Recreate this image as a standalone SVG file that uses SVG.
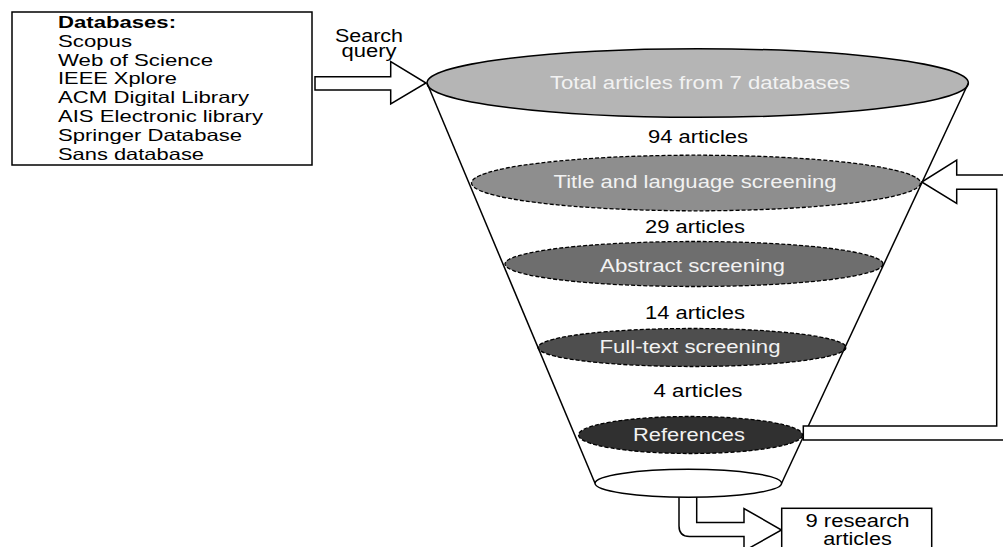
<svg xmlns="http://www.w3.org/2000/svg" width="1003" height="547" viewBox="0 0 1003 547">
  <style>
    .box { fill: #ffffff; stroke: #000000; stroke-width: 1.5; }
    .lst { font-family: "Liberation Sans", Arial, sans-serif; font-size: 16.5px; fill: #000000; }
    .lbl { font-family: "Liberation Sans", Arial, sans-serif; font-size: 17.5px; fill: #000000; text-anchor: middle; }
    .in  { font-family: "Liberation Sans", Arial, sans-serif; font-size: 17.5px; fill: #f2f2f2; text-anchor: middle; }
    .stage { stroke: #000000; stroke-width: 1.3; stroke-dasharray: 4 2; }
    .line { fill: none; stroke: #000000; stroke-width: 1.5; }
    .arrow { fill: #ffffff; stroke: #000000; stroke-width: 1.5; stroke-linejoin: miter; }
  </style>

  <!-- source databases -->
  <g id="databases">
    <rect class="box" x="12" y="12" width="300" height="153"/>
    <text class="lst" x="58" y="28" font-weight="bold" textLength="118" lengthAdjust="spacingAndGlyphs">Databases:</text>
    <text class="lst" x="58" y="46.8" textLength="74" lengthAdjust="spacingAndGlyphs">Scopus</text>
    <text class="lst" x="58" y="65.6" textLength="155" lengthAdjust="spacingAndGlyphs">Web of Science</text>
    <text class="lst" x="58" y="84.4" textLength="119" lengthAdjust="spacingAndGlyphs">IEEE Xplore</text>
    <text class="lst" x="58" y="103.2" textLength="191" lengthAdjust="spacingAndGlyphs">ACM Digital Library</text>
    <text class="lst" x="58" y="122" textLength="205" lengthAdjust="spacingAndGlyphs">AIS Electronic library</text>
    <text class="lst" x="58" y="140.8" textLength="184" lengthAdjust="spacingAndGlyphs">Springer Database</text>
    <text class="lst" x="58" y="159.6" textLength="146" lengthAdjust="spacingAndGlyphs">Sans database</text>
  </g>

  <g id="search-query">
    <text class="lbl" x="369" y="41.7" font-size="16.5" textLength="68" lengthAdjust="spacingAndGlyphs">Search</text>
    <text class="lbl" x="369" y="57.3" font-size="16.5" textLength="55" lengthAdjust="spacingAndGlyphs">query</text>
  </g>

  <!-- output arrow sits under the funnel base -->
  <g id="output-arrow">
    <path class="arrow" d="M679,497 L679,526 Q679,536.5 689.5,536.5 L744,536.5 L744,551 L781.5,530 L744,508.5 L744,522.5 L696.7,522.5 L696.7,497"/>
  </g>

  <!-- funnel stages -->
  <g id="stage-total">
    <ellipse cx="697.7" cy="83" rx="270.7" ry="34.3" fill="#b5b5b5" stroke="#000000" stroke-width="1.5"/>
    <text class="in" x="700" y="89.3" textLength="300" lengthAdjust="spacingAndGlyphs">Total articles from 7 databases</text>
  </g>
  <g id="count-94">
    <text class="lbl" x="698" y="143.3" textLength="100" lengthAdjust="spacingAndGlyphs">94 articles</text>
  </g>
  <g id="stage-title">
    <ellipse class="stage" cx="696" cy="183" rx="224.5" ry="27.8" fill="#8e8e8e"/>
    <text class="in" x="695" y="188.3" textLength="283" lengthAdjust="spacingAndGlyphs">Title and language screening</text>
  </g>
  <g id="count-29">
    <text class="lbl" x="695" y="233" textLength="100" lengthAdjust="spacingAndGlyphs">29 articles</text>
  </g>
  <g id="stage-abstract">
    <ellipse class="stage" cx="694" cy="264" rx="189" ry="22.5" fill="#6e6e6e"/>
    <text class="in" x="692.5" y="271.5" textLength="185" lengthAdjust="spacingAndGlyphs">Abstract screening</text>
  </g>
  <g id="count-14">
    <text class="lbl" x="695" y="319.3" textLength="100" lengthAdjust="spacingAndGlyphs">14 articles</text>
  </g>
  <g id="stage-fulltext">
    <ellipse class="stage" cx="692" cy="347.5" rx="154" ry="19" fill="#4e4e4e"/>
    <text class="in" x="690" y="353.3" textLength="181" lengthAdjust="spacingAndGlyphs">Full-text screening</text>
  </g>
  <g id="count-4">
    <text class="lbl" x="698" y="396.7" textLength="89" lengthAdjust="spacingAndGlyphs">4 articles</text>
  </g>
  <g id="stage-references">
    <ellipse class="stage" cx="690.5" cy="435" rx="112" ry="18.5" fill="#303030"/>
    <text class="in" x="689" y="440.5" textLength="112" lengthAdjust="spacingAndGlyphs">References</text>
  </g>
  <g id="funnel-base">
    <ellipse cx="688.3" cy="483.3" rx="93.3" ry="14" fill="#ffffff" stroke="#000000" stroke-width="1.5"/>
  </g>

  <g id="result">
    <rect class="box" x="781.7" y="508.3" width="150" height="50"/>
    <text class="lbl" x="857.5" y="527" textLength="104" lengthAdjust="spacingAndGlyphs">9 research</text>
    <text class="lbl" x="857.5" y="545" textLength="68.5" lengthAdjust="spacingAndGlyphs">articles</text>
  </g>

  <!-- connectors -->
  <g id="connectors">
    <line class="line" x1="427" y1="83" x2="595" y2="483.3"/>
    <line class="line" x1="968.4" y1="83" x2="781.6" y2="483.3"/>
    <path class="arrow" d="M315,76.7 L390.7,76.7 L390.7,61.7 L426,83 L390.7,104 L390.7,90 L315,90 Z"/>
    <path class="arrow" d="M803.3,440 L1011,440 L1011,175 L956.7,175 L956.7,160 L921.7,182 L956.7,203.3 L956.7,189.3 L996.7,189.3 L996.7,426 L803.3,426 Z"/>
  </g>
</svg>
